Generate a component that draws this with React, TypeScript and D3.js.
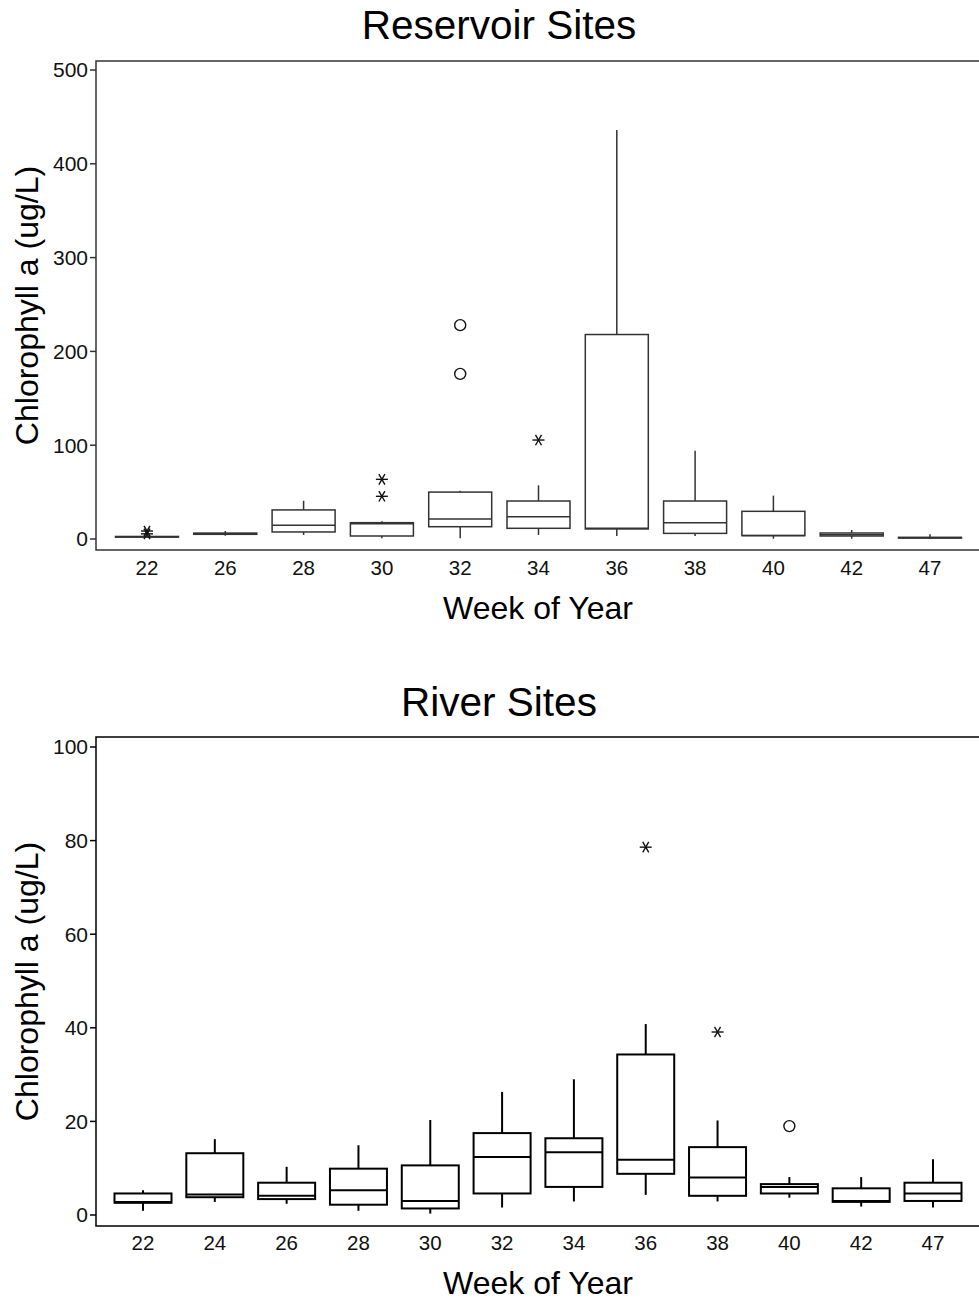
import React from "react";
import * as d3 from "d3";

// Reservoir sites: weekly box-plot summaries of chlorophyll a (ug/L)
const resWeeks = ["22", "26", "28", "30", "32", "34", "36", "38", "40", "42", "47"];
const resLow = [1, 3.5, 4.3, 0.7, 0.7, 4.3, 3.2, 3.2, 0.3, 0.3, 0];
const resQ1 = [2, 5, 7.5, 3.2, 13.1, 11.4, 10.7, 6, 3.6, 3.2, 1.0];
const resMedian = [2.4, 5.6, 14.6, 16.3, 21.3, 23.8, 11.4, 17.4, 3.6, 4.5, 1.4];
const resQ3 = [2.7, 6.3, 31, 17.4, 50, 40.5, 218, 40.5, 29.5, 6.4, 1.8];
const resHigh = [4, 8.5, 40.8, 18.8, 51.5, 57.2, 436, 94.2, 46.2, 9.6, 5];
const resOutliers: [string, number, string][] = [
  ["22", 8.5, "star"],
  ["22", 5.5, "star"],
  ["30", 63.6, "star"],
  ["30", 45.5, "star"],
  ["32", 228, "circle"],
  ["32", 176, "circle"],
  ["34", 105.5, "star"],
];
const resTicks = [0, 100, 200, 300, 400, 500];

// River sites
const rivWeeks = ["22", "24", "26", "28", "30", "32", "34", "36", "38", "40", "42", "47"];
const rivLow = [0.9, 2.8, 2.4, 0.9, 0.3, 1.6, 2.9, 4.3, 2.9, 3.7, 1.8, 1.6];
const rivQ1 = [2.6, 3.8, 3.4, 2.2, 1.4, 4.6, 6.0, 8.8, 4.1, 4.6, 2.8, 3.0];
const rivMedian = [2.8, 4.4, 4.1, 5.3, 3.0, 12.4, 13.4, 11.8, 8.0, 6.0, 3.0, 4.6];
const rivQ3 = [4.6, 13.2, 6.9, 9.9, 10.6, 17.5, 16.4, 34.3, 14.5, 6.6, 5.7, 6.9];
const rivHigh = [5.3, 16.2, 10.3, 14.9, 20.3, 26.3, 29.0, 40.8, 20.2, 8.1, 8.1, 11.9];
const rivOutliers: [string, number, string][] = [
  ["36", 78.6, "star"],
  ["38", 39.1, "star"],
  ["40", 19.0, "circle"],
];
const rivTicks = [0, 20, 40, 60, 80, 100];

const FONT = "'Liberation Sans', Arial, sans-serif";

type PanelProps = {
  title: string;
  weeks: string[];
  low: number[];
  q1: number[];
  median: number[];
  q3: number[];
  high: number[];
  outliers: [string, number, string][];
  ticks: number[];
  yMax: number;
  frameTop: number;
  frameBottom: number;
  yRange: [number, number];
  xRange: [number, number];
  boxWidth: number;
  stroke: string;
  strokeWidth: number;
  titleY: number;
  tickLabelY: number;
  xTitleY: number;
};

function Star({ cx, cy, color }: { cx: number; cy: number; color: string }) {
  const r = 6;
  const dx = r * Math.cos(Math.PI / 3);
  const dy = r * Math.sin(Math.PI / 3);
  return (
    <g stroke={color} strokeWidth={1.4}>
      <line x1={cx - r} y1={cy} x2={cx + r} y2={cy} />
      <line x1={cx - dx} y1={cy - dy} x2={cx + dx} y2={cy + dy} />
      <line x1={cx - dx} y1={cy + dy} x2={cx + dx} y2={cy - dy} />
    </g>
  );
}

function Panel(p: PanelProps) {
  const left = 96;
  const right = 979;
  const x = d3.scalePoint<string>().domain(p.weeks).range(p.xRange);
  const y = d3.scaleLinear().domain([0, p.yMax]).range(p.yRange);
  const hw = p.boxWidth / 2;

  return (
    <g fontFamily={FONT}>
      <text x={499} y={p.titleY} fontSize={40.5} textAnchor="middle" fill="#000">
        {p.title}
      </text>
      {/* frame: left, top and bottom edges */}
      <path
        d={`M${right},${p.frameTop}H${left}V${p.frameBottom}H${right}`}
        fill="none"
        stroke={p.stroke}
        strokeWidth={1.5}
      />
      {p.ticks.map((t) => (
        <g key={t}>
          <line x1={left - 6} x2={left} y1={y(t)} y2={y(t)} stroke={p.stroke} strokeWidth={1.5} />
          <text x={left - 8} y={y(t)} dy="0.35em" fontSize={21} textAnchor="end" fill="#111">
            {t}
          </text>
        </g>
      ))}
      <text
        transform={`translate(27,${(p.frameTop + p.frameBottom) / 2}) rotate(-90)`}
        fontSize={32}
        textAnchor="middle"
        dy="0.35em"
        fill="#000"
      >
        Chlorophyll a (ug/L)
      </text>
      {p.weeks.map((w, i) => {
        const cx = x(w)!;
        return (
          <g key={w} stroke={p.stroke} strokeWidth={p.strokeWidth} fill="none">
            <line x1={cx} x2={cx} y1={y(p.q3[i])} y2={y(p.high[i])} />
            <line x1={cx} x2={cx} y1={y(p.q1[i])} y2={y(p.low[i])} />
            <rect
              x={cx - hw}
              y={y(p.q3[i])}
              width={p.boxWidth}
              height={Math.max(0.5, y(p.q1[i]) - y(p.q3[i]))}
              fill="#fff"
            />
            <line x1={cx - hw} x2={cx + hw} y1={y(p.median[i])} y2={y(p.median[i])} />
            <text
              x={cx}
              y={p.tickLabelY}
              fontSize={20.5}
              textAnchor="middle"
              fill="#111"
              stroke="none"
            >
              {w}
            </text>
          </g>
        );
      })}
      {p.outliers.map(([w, v, shape], i) => {
        const cx = x(w)!;
        const cy = y(v);
        return shape === "star" ? (
          <Star key={i} cx={cx} cy={cy} color="#111" />
        ) : (
          <circle key={i} cx={cx} cy={cy} r={5.5} fill="none" stroke="#111" strokeWidth={1.4} />
        );
      })}
      <text x={538} y={p.xTitleY} fontSize={32} textAnchor="middle" fill="#000">
        Week of Year
      </text>
    </g>
  );
}

export default function App() {
  return (
    <svg
      width={979}
      height={1301}
      style={{ position: "absolute", left: 0, top: 0, background: "#fff" }}
    >
      <rect width={979} height={1301} fill="#fff" />
      <Panel
        title="Reservoir Sites"
        weeks={resWeeks}
        low={resLow}
        q1={resQ1}
        median={resMedian}
        q3={resQ3}
        high={resHigh}
        outliers={resOutliers}
        ticks={resTicks}
        yMax={500}
        frameTop={61}
        frameBottom={550}
        yRange={[539, 70]}
        xRange={[147, 930]}
        boxWidth={63}
        stroke="#333"
        strokeWidth={1.5}
        titleY={39}
        tickLabelY={575}
        xTitleY={619}
      />
      <Panel
        title="River Sites"
        weeks={rivWeeks}
        low={rivLow}
        q1={rivQ1}
        median={rivMedian}
        q3={rivQ3}
        high={rivHigh}
        outliers={rivOutliers}
        ticks={rivTicks}
        yMax={100}
        frameTop={737}
        frameBottom={1226}
        yRange={[1215, 747]}
        xRange={[143, 933]}
        boxWidth={57}
        stroke="#000"
        strokeWidth={2}
        titleY={716}
        tickLabelY={1250}
        xTitleY={1294}
      />
    </svg>
  );
}
